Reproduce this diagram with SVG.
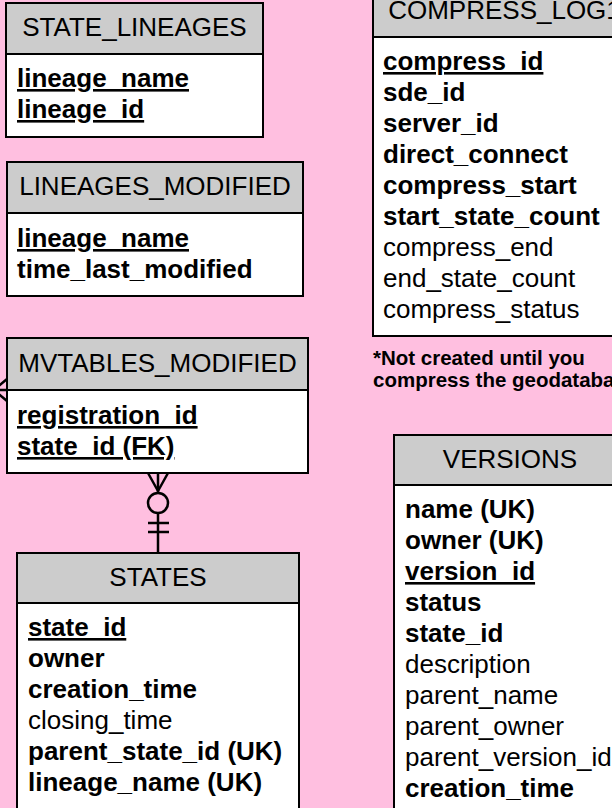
<svg xmlns="http://www.w3.org/2000/svg" width="612" height="808" viewBox="0 0 612 808">
<style>
.hdr{fill:#CCCCCC;stroke:#000;stroke-width:2}
.bdy{fill:#FFFFFF;stroke:#000;stroke-width:2}
text{font-family:"Liberation Sans",Arial,sans-serif;font-size:26px;fill:#000}
.t{text-anchor:middle}
.b{font-weight:bold}
.u{text-decoration:underline}
.note{font-size:20.5px;font-weight:bold}
.conn{stroke:#000;stroke-width:2.5;fill:none}
</style>
<rect width="612" height="808" fill="#FFBFE0"/>
<g id="connectors">
  <line class="conn" x1="158" y1="473" x2="158" y2="553"/>
  <path class="conn" d="M148,473 L158,491 L168,473"/>
  <circle class="conn" cx="158" cy="503" r="10" style="fill:#FFBFE0"/>
  <line class="conn" x1="148" y1="523" x2="169" y2="523"/>
  <line class="conn" x1="148" y1="532" x2="169" y2="532"/>
  <path class="conn" d="M0,390 L7,390 M-6,390 L7,379 M-6,390 L7,401"/>
</g>
<g id="state_lineages">
  <rect class="hdr" x="6" y="3" width="257" height="51"/>
  <rect class="bdy" x="6" y="54" width="257" height="83"/>
  <text class="t" x="134.5" y="36">STATE_LINEAGES</text>
  <text class="b u" x="17" y="87">lineage_name</text>
  <text class="b u" x="17" y="118">lineage_id</text>
</g>
<g id="lineages_modified">
  <rect class="hdr" x="7" y="162" width="296" height="51"/>
  <rect class="bdy" x="7" y="213" width="296" height="83"/>
  <text class="t" x="155" y="195">LINEAGES_MODIFIED</text>
  <text class="b u" x="17" y="247">lineage_name</text>
  <text class="b" x="17" y="278">time_last_modified</text>
</g>
<g id="mvtables_modified">
  <rect class="hdr" x="7" y="338" width="301" height="52"/>
  <rect class="bdy" x="7" y="390" width="301" height="83"/>
  <text class="t" x="157.5" y="372">MVTABLES_MODIFIED</text>
  <text class="b u" x="17" y="424">registration_id</text>
  <text class="b u" x="17" y="455">state_id (FK)</text>
</g>
<g id="states">
  <rect class="hdr" x="17" y="553" width="282" height="50"/>
  <rect class="bdy" x="17" y="603" width="282" height="220"/>
  <text class="t" x="158" y="586">STATES</text>
  <text class="b u" x="28" y="636">state_id</text>
  <text class="b" x="28" y="667">owner</text>
  <text class="b" x="28" y="698">creation_time</text>
  <text x="28" y="729">closing_time</text>
  <text class="b" x="28" y="760">parent_state_id (UK)</text>
  <text class="b" x="28" y="791">lineage_name (UK)</text>
</g>
<g id="compress_log1">
  <rect class="hdr" x="373" y="-14" width="270" height="51"/>
  <rect class="bdy" x="373" y="37" width="270" height="299"/>
  <text class="t" x="504.5" y="19">COMPRESS_LOG1</text>
  <text class="b u" x="383" y="70">compress_id</text>
  <text class="b" x="383" y="101">sde_id</text>
  <text class="b" x="383" y="132">server_id</text>
  <text class="b" x="383" y="163">direct_connect</text>
  <text class="b" x="383" y="194">compress_start</text>
  <text class="b" x="383" y="225">start_state_count</text>
  <text x="383" y="256">compress_end</text>
  <text x="383" y="287">end_state_count</text>
  <text x="383" y="318">compress_status</text>
</g>
<g id="note">
  <text class="note" x="373" y="365">*Not created until you</text>
  <text class="note" x="373" y="387">compress the geodatabase</text>
</g>
<g id="versions">
  <rect class="hdr" x="394" y="435" width="240" height="50"/>
  <rect class="bdy" x="394" y="485" width="240" height="340"/>
  <text class="t" x="510" y="468">VERSIONS</text>
  <text class="b" x="405" y="518">name (UK)</text>
  <text class="b" x="405" y="549">owner (UK)</text>
  <text class="b u" x="405" y="580">version_id</text>
  <text class="b" x="405" y="611">status</text>
  <text class="b" x="405" y="642">state_id</text>
  <text x="405" y="673">description</text>
  <text x="405" y="704">parent_name</text>
  <text x="405" y="735">parent_owner</text>
  <text x="405" y="766">parent_version_id</text>
  <text class="b" x="405" y="797">creation_time</text>
</g>
</svg>
